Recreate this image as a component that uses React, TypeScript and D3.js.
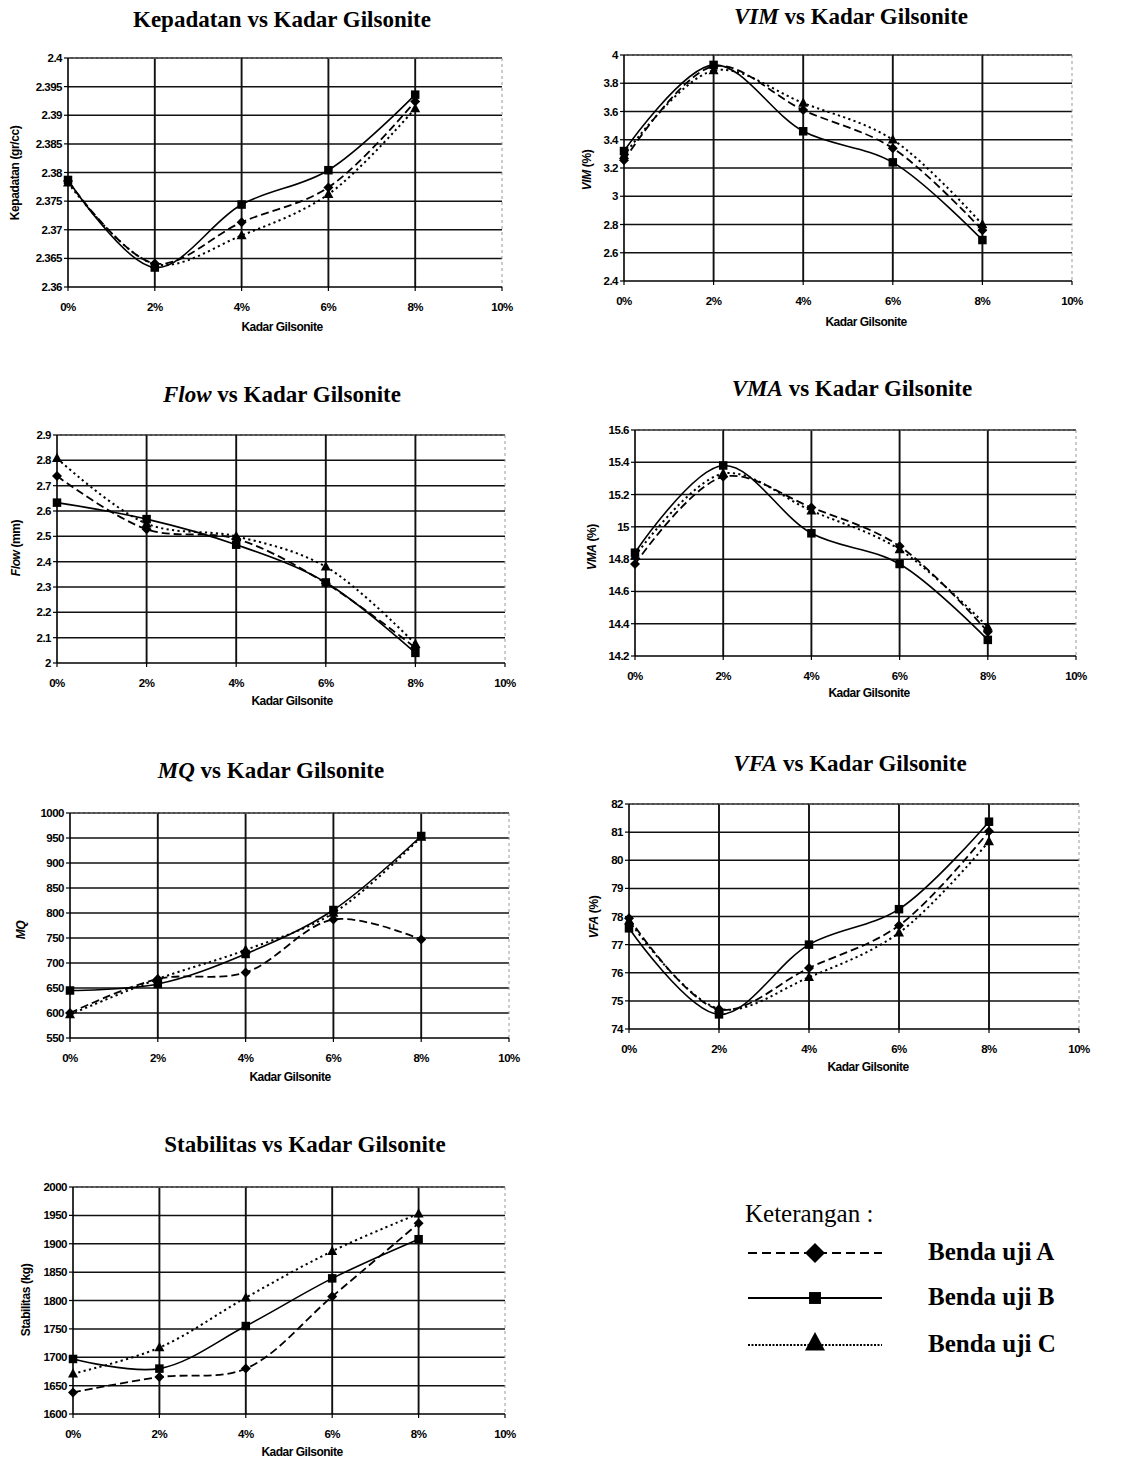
import React from 'react';
import * as d3 from 'd3';

// Kadar Gilsonite (%)
const kadar = [0, 2, 4, 6, 8];
const xTicks = [0, 2, 4, 6, 8, 10];

// Kepadatan (gr/cc)
const kepadatanA = [2.3785, 2.3641, 2.3713, 2.3774, 2.3924];
const kepadatanB = [2.3787, 2.3634, 2.3744, 2.3804, 2.3936];
const kepadatanC = [2.3782, 2.364, 2.369, 2.3762, 2.3912];
const kepadatanTicks = [2.36, 2.365, 2.37, 2.375, 2.38, 2.385, 2.39, 2.395, 2.4];

// VIM (%)
const vimA = [3.255, 3.92, 3.61, 3.34, 2.76];
const vimB = [3.32, 3.93, 3.46, 3.24, 2.69];
const vimC = [3.29, 3.89, 3.66, 3.4, 2.8];
const vimTicks = [2.4, 2.6, 2.8, 3, 3.2, 3.4, 3.6, 3.8, 4];

// Flow (mm)
const flowA = [2.738, 2.528, 2.49, 2.315, 2.06];
const flowB = [2.633, 2.568, 2.467, 2.318, 2.04];
const flowC = [2.808, 2.55, 2.5, 2.38, 2.075];
const flowTicks = [2, 2.1, 2.2, 2.3, 2.4, 2.5, 2.6, 2.7, 2.8, 2.9];

// VMA (%)
const vmaA = [14.77, 15.31, 15.12, 14.88, 14.35];
const vmaB = [14.84, 15.38, 14.96, 14.77, 14.3];
const vmaC = [14.82, 15.33, 15.1, 14.86, 14.38];
const vmaTicks = [14.2, 14.4, 14.6, 14.8, 15, 15.2, 15.4, 15.6];

// MQ
const mqA = [600, 668, 681, 787, 747];
const mqB = [645, 658, 718, 806, 954];
const mqC = [597, 668, 726, 800, 952];
const mqTicks = [550, 600, 650, 700, 750, 800, 850, 900, 950, 1000];

// VFA (%)
const vfaA = [77.94, 74.7, 76.17, 77.68, 81.03];
const vfaB = [77.58, 74.52, 77.0, 78.26, 81.37];
const vfaC = [77.85, 74.72, 75.84, 77.42, 80.67];
const vfaTicks = [74, 75, 76, 77, 78, 79, 80, 81, 82];

// Stabilitas (kg)
const stabA = [1638, 1665, 1680, 1807, 1936];
const stabB = [1697, 1680, 1755, 1839, 1908];
const stabC = [1671, 1717, 1805, 1887, 1953];
const stabTicks = [1600, 1650, 1700, 1750, 1800, 1850, 1900, 1950, 2000];

const seriesNames = ['Benda uji A', 'Benda uji B', 'Benda uji C'];

const SERIF = '"Liberation Serif", "Times New Roman", serif';
const SANS = '"Liberation Sans", Arial, sans-serif';

const dashes = ['8,4', null, '2.2,3.3'];

function marker(kind: number, x: number, y: number, s: number) {
  if (kind === 0) {
    return <path d={`M${x},${y - s}L${x + s},${y}L${x},${y + s}L${x - s},${y}Z`} fill="#000" />;
  }
  if (kind === 1) {
    return <rect x={x - s * 0.85} y={y - s * 0.85} width={s * 1.7} height={s * 1.7} fill="#000" />;
  }
  return <path d={`M${x},${y - s * 1.1}L${x + s},${y + s * 0.75}L${x - s},${y + s * 0.75}Z`} fill="#000" />;
}

type ChartProps = {
  box: [number, number, number, number];
  ticks: number[];
  series: number[][];
  title: React.ReactNode;
  titlePos: [number, number];
  yLabel: React.ReactNode;
  yLabelPos: [number, number];
  xLabelPos: [number, number];
};

function Chart({ box, ticks, series, title, titlePos, yLabel, yLabelPos, xLabelPos }: ChartProps) {
  const [left, top, right, bottom] = box;
  const x = d3.scaleLinear().domain([0, 10]).range([left, right]);
  const y = d3.scaleLinear().domain([ticks[0], ticks[ticks.length - 1]]).range([bottom, top]);
  const line = d3
    .line<number>()
    .x((_, i) => x(kadar[i]))
    .y((d) => y(d))
    .curve(d3.curveCatmullRom.alpha(0.5));
  const fmt = (v: number) => String(+v.toFixed(3));
  return (
    <g>
      <text x={titlePos[0]} y={titlePos[1]} textAnchor="middle" fontFamily={SERIF} fontWeight="bold" fontSize={23}>
        {title}
      </text>
      {/* horizontal grid */}
      {ticks.slice(1).map((t, i) => (
        <line key={'h' + i} x1={left} x2={right} y1={y(t)} y2={y(t)} stroke="#111" strokeWidth={1.5} />
      ))}
      {/* vertical grid */}
      {xTicks.slice(1, -1).map((t) => (
        <line key={'v' + t} x1={x(t)} x2={x(t)} y1={top} y2={bottom} stroke="#111" strokeWidth={1.9} />
      ))}
      {/* frame top & right */}
      <line x1={left} x2={right} y1={top} y2={top} stroke="#777" strokeWidth={1} strokeDasharray="3,2" />
      <line x1={right} x2={right} y1={top} y2={bottom} stroke="#999" strokeWidth={1} strokeDasharray="3,3" />
      {/* axes */}
      <line x1={left} x2={left} y1={top} y2={bottom} stroke="#000" strokeWidth={1.6} />
      <line x1={left} x2={right} y1={bottom} y2={bottom} stroke="#000" strokeWidth={1.6} />
      {ticks.map((t, i) => (
        <g key={'yt' + i}>
          <line x1={left - 4} x2={left} y1={y(t)} y2={y(t)} stroke="#000" strokeWidth={1.2} />
          <text
            x={left - 6}
            y={y(t) + 4}
            textAnchor="end"
            fontFamily={SANS}
            fontWeight="bold"
            fontSize={11.5}
            letterSpacing={-0.5}
          >
            {fmt(t)}
          </text>
        </g>
      ))}
      {xTicks.map((t) => (
        <g key={'xt' + t}>
          <line x1={x(t)} x2={x(t)} y1={bottom} y2={bottom + 4} stroke="#000" strokeWidth={1.2} />
          <text
            x={x(t)}
            y={bottom + 24}
            textAnchor="middle"
            fontFamily={SANS}
            fontWeight="bold"
            fontSize={11.5}
            letterSpacing={-0.5}
          >
            {t + '%'}
          </text>
        </g>
      ))}
      <text
        x={xLabelPos[0]}
        y={xLabelPos[1]}
        textAnchor="middle"
        fontFamily={SANS}
        fontWeight="bold"
        fontSize={12}
        letterSpacing={-0.5}
      >
        Kadar Gilsonite
      </text>
      <text
        transform={`translate(${yLabelPos[0]},${yLabelPos[1]}) rotate(-90)`}
        textAnchor="middle"
        fontFamily={SANS}
        fontWeight="bold"
        fontSize={12}
        letterSpacing={-0.4}
      >
        {yLabel}
      </text>
      {series.map((s, k) => (
        <path
          key={'l' + k}
          d={line(s) || ''}
          fill="none"
          stroke="#000"
          strokeWidth={k === 1 ? 1.6 : k === 2 ? 2 : 1.8}
          strokeDasharray={dashes[k] || undefined}
        />
      ))}
      {series.map((s, k) =>
        s.map((v, i) => <g key={'m' + k + '-' + i}>{marker(k, x(kadar[i]), y(v), 5)}</g>)
      )}
    </g>
  );
}

function Legend() {
  const rows = [1253, 1298, 1345];
  return (
    <g>
      <text x={745} y={1222} fontFamily={SERIF} fontSize={25}>
        Keterangan :
      </text>
      {rows.map((ry, k) => (
        <g key={k}>
          <line
            x1={748}
            x2={882}
            y1={ry}
            y2={ry}
            stroke="#000"
            strokeWidth={2}
            strokeDasharray={k === 0 ? '9,5' : k === 2 ? '2,1.5' : undefined}
          />
          {marker(k, 815, ry - (k === 2 ? 2 : 0), k === 1 ? 7 : 10)}
          <text x={928} y={ry + 7} fontFamily={SERIF} fontWeight="bold" fontSize={25}>
            {seriesNames[k]}
          </text>
        </g>
      ))}
    </g>
  );
}

export default function App() {
  return (
    <svg
      width={1131}
      height={1460}
      style={{ position: 'absolute', left: 0, top: 0, background: '#fff' }}
    >
      <rect width={1131} height={1460} fill="#fff" />
      <Chart
        box={[68, 58, 502, 287]}
        ticks={kepadatanTicks}
        series={[kepadatanA, kepadatanB, kepadatanC]}
        title="Kepadatan vs Kadar Gilsonite"
        titlePos={[282, 27]}
        yLabel="Kepadatan (gr/cc)"
        yLabelPos={[19, 173]}
        xLabelPos={[282, 331]}
      />
      <Chart
        box={[624, 55, 1072, 281]}
        ticks={vimTicks}
        series={[vimA, vimB, vimC]}
        title={<><tspan fontStyle="italic">VIM</tspan> vs Kadar Gilsonite</>}
        titlePos={[851, 24]}
        yLabel={<><tspan fontStyle="italic">VIM</tspan> (%)</>}
        yLabelPos={[591, 170]}
        xLabelPos={[866, 326]}
      />
      <Chart
        box={[57, 435, 505, 663]}
        ticks={flowTicks}
        series={[flowA, flowB, flowC]}
        title={<><tspan fontStyle="italic">Flow</tspan> vs Kadar Gilsonite</>}
        titlePos={[282, 402]}
        yLabel={<><tspan fontStyle="italic">Flow</tspan> (mm)</>}
        yLabelPos={[20, 548]}
        xLabelPos={[292, 705]}
      />
      <Chart
        box={[635, 430, 1076, 656]}
        ticks={vmaTicks}
        series={[vmaA, vmaB, vmaC]}
        title={<><tspan fontStyle="italic">VMA</tspan> vs Kadar Gilsonite</>}
        titlePos={[852, 396]}
        yLabel={<><tspan fontStyle="italic">VMA</tspan> (%)</>}
        yLabelPos={[596, 547]}
        xLabelPos={[869, 697]}
      />
      <Chart
        box={[70, 813, 509, 1038]}
        ticks={mqTicks}
        series={[mqA, mqB, mqC]}
        title={<><tspan fontStyle="italic">MQ</tspan> vs Kadar Gilsonite</>}
        titlePos={[271, 778]}
        yLabel={<tspan fontStyle="italic">MQ</tspan>}
        yLabelPos={[25, 930]}
        xLabelPos={[290, 1081]}
      />
      <Chart
        box={[629, 804, 1079, 1029]}
        ticks={vfaTicks}
        series={[vfaA, vfaB, vfaC]}
        title={<><tspan fontStyle="italic">VFA</tspan> vs Kadar Gilsonite</>}
        titlePos={[850, 771]}
        yLabel={<><tspan fontStyle="italic">VFA</tspan> (%)</>}
        yLabelPos={[598, 917]}
        xLabelPos={[868, 1071]}
      />
      <Chart
        box={[73, 1187, 505, 1414]}
        ticks={stabTicks}
        series={[stabA, stabB, stabC]}
        title="Stabilitas vs Kadar Gilsonite"
        titlePos={[305, 1152]}
        yLabel="Stabilitas (kg)"
        yLabelPos={[30, 1300]}
        xLabelPos={[302, 1456]}
      />
      <Legend />
    </svg>
  );
}
